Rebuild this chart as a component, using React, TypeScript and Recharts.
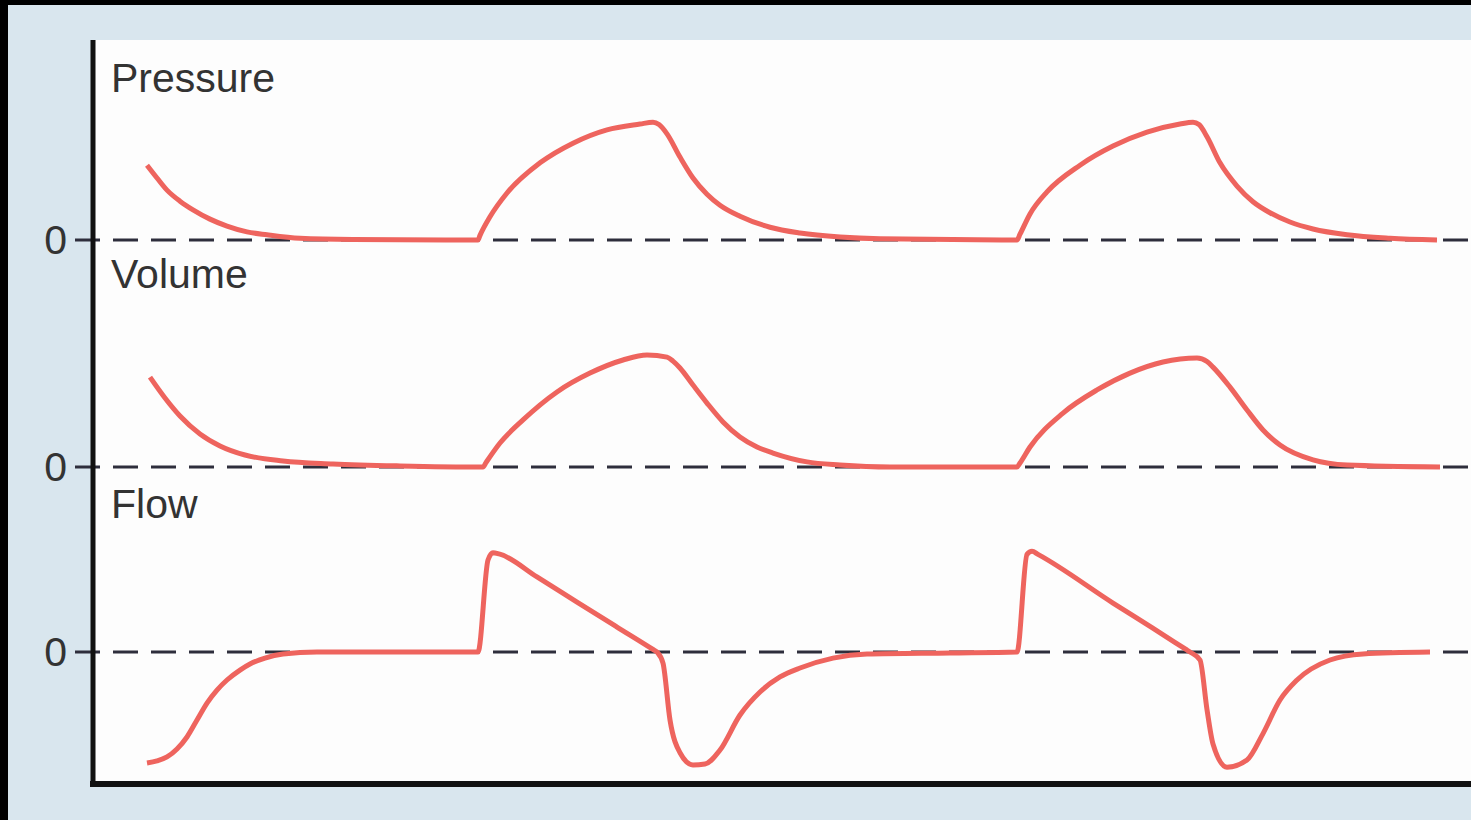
import React from 'react';
import { LineChart, Line, XAxis, YAxis, ReferenceLine, CartesianGrid } from 'recharts';

// time in seconds
const pressureTime = [0.54, 0.64, 0.74, 0.87, 1.0, 1.17, 1.34, 1.54, 1.74, 2.07, 2.6, 3.85, 3.87, 3.97, 4.14, 4.47, 4.8, 5.14, 5.47, 5.6, 5.66, 5.74, 5.87, 6.0, 6.14, 6.27, 6.47, 6.77, 7.07, 7.47, 7.87, 9.24, 9.27, 9.37, 9.54, 9.87, 10.2, 10.54, 10.87, 11.0, 11.06, 11.14, 11.27, 11.44, 11.6, 11.77, 11.97, 12.2, 12.54, 12.97, 13.44];
const pressureValue = [12.9, 10.7, 8.6, 6.7, 5.2, 3.6, 2.4, 1.4, 0.9, 0.3, 0.1, 0, 0.8, 4.0, 8.1, 13.3, 16.7, 19.0, 20.0, 20.3, 19.9, 18.3, 14.3, 10.7, 7.9, 6.0, 4.1, 2.2, 1.2, 0.5, 0.2, 0, 1.0, 4.5, 8.3, 12.9, 16.2, 18.6, 20.0, 20.3, 19.9, 17.8, 13.3, 9.3, 6.6, 4.7, 3.1, 1.9, 0.9, 0.3, 0];

const volumeTime = [0.57, 0.72, 0.87, 1.07, 1.27, 1.52, 1.9, 2.4, 3.07, 3.9, 3.93, 4.07, 4.3, 4.64, 4.97, 5.3, 5.54, 5.74, 5.8, 5.87, 6.0, 6.14, 6.3, 6.47, 6.64, 6.8, 7.14, 7.47, 7.97, 9.24, 9.27, 9.37, 9.7, 10.04, 10.37, 10.7, 11.04, 11.14, 11.2, 11.37, 11.54, 11.7, 11.87, 12.2, 12.54, 13.47];
const volumeValue = [405, 311, 230, 149, 95, 54, 27, 14, 5, 0, 20, 108, 212, 338, 423, 482, 505, 495, 477, 446, 369, 288, 203, 135, 90, 63, 23, 9, 0, 0, 18, 90, 243, 347, 423, 473, 491, 475, 450, 360, 257, 167, 99, 32, 9, 0];

const flowTime = [0.54, 0.64, 0.74, 0.84, 0.94, 1.04, 1.14, 1.24, 1.34, 1.47, 1.57, 1.72, 1.9, 2.24, 3.85, 3.95, 4.0, 4.06, 4.44, 4.84, 5.24, 5.6, 5.64, 5.7, 5.77, 5.87, 6.0, 6.12, 6.27, 6.47, 6.67, 6.87, 7.07, 7.4, 7.74, 8.57, 9.24, 9.34, 9.39, 9.45, 10.2, 10.59, 10.93, 10.97, 11.07, 11.14, 11.2, 11.34, 11.54, 11.7, 11.87, 12.04, 12.37, 12.7, 13.37];
const flowValue = [-69.4, -68.1, -65.6, -60.6, -53.1, -42.5, -31.9, -23.8, -17.5, -11.3, -7.5, -3.8, -1.3, 0, 0, 57.5, 62, 61.3, 46.9, 31.2, 15.6, 1.6, 0, -7, -42.5, -63, -70.6, -70, -61.3, -39.4, -25, -15.6, -10, -3.8, -1.3, -0.6, 0, 61, 63, 61, 30.6, 15.2, 1.6, 0, -5, -36, -57.5, -72, -67.5, -51, -30, -17.5, -5, -1.2, 0];

const panelTitles = ['Pressure', 'Volume', 'Flow'];
const zeroTick = '0';

const W = 1471;
const H = 820;
const PLOT_LEFT = 93;
const PLOT_TOP = 40;
const PLOT_BOTTOM = 784;
const T_MIN = 0;
const T_MAX = 13.78;
const DASH_START = -0.18;

const RED = '#ee645e';
const INK = '#333';
const AXIS = '#111';

const toPoints = (ts: number[], vs: number[]) => ts.map((t, i) => ({ t, v: vs[i] }));

const panels = [
  { id: 'p', title: panelTitles[0], data: toPoints(pressureTime, pressureValue), zeroY: 240, pxPerUnit: 5.8, titleDy: -148 },
  { id: 'v', title: panelTitles[1], data: toPoints(volumeTime, volumeValue), zeroY: 467, pxPerUnit: 0.222, titleDy: -179 },
  { id: 'f', title: panelTitles[2], data: toPoints(flowTime, flowValue), zeroY: 652, pxPerUnit: 1.6, titleDy: -134 },
];

const domainFor = (zeroY: number, pxPerUnit: number): [number, number] => [
  (zeroY - PLOT_BOTTOM) / pxPerUnit,
  (zeroY - PLOT_TOP) / pxPerUnit,
];

const flowDomain = domainFor(panels[2].zeroY, panels[2].pxPerUnit);

const zeroLabel = (title: string, titleDy: number) => (props: any) => {
  const { x, y } = props.viewBox;
  const font = { fontFamily: '"Liberation Sans", Arial, sans-serif', fontSize: 41, fill: INK };
  return (
    <g>
      <text x={x - 8} y={y + 14} textAnchor="end" {...font}>{zeroTick}</text>
      <text x={x + 36} y={y + titleDy} textAnchor="start" {...font}>{title}</text>
    </g>
  );
};

const App: React.FC = () => {
  return (
    <div style={{ position: 'absolute', left: 0, top: 0, width: W, height: H, background: '#d9e6ee', overflow: 'hidden' }}>
      <div style={{ position: 'absolute', left: 0, top: 0, width: W, height: 5, background: '#000' }} />
      <div style={{ position: 'absolute', left: 0, top: 0, width: 8, height: H, background: '#000' }} />
      <div style={{ position: 'absolute', left: 0, top: 0 }}>
        <LineChart width={W} height={H} margin={{ top: PLOT_TOP, right: 0, bottom: H - PLOT_BOTTOM, left: PLOT_LEFT }}>
          <CartesianGrid horizontal={false} vertical={false} fill="#fdfdfd" />
          <XAxis dataKey="t" type="number" domain={[T_MIN, T_MAX]} allowDataOverflow hide />
          {panels.map((p) => (
            <YAxis
              key={p.id}
              yAxisId={p.id}
              type="number"
              domain={domainFor(p.zeroY, p.pxPerUnit)}
              allowDataOverflow
              hide
            />
          ))}
          {panels.map((p) => (
            <ReferenceLine
              key={`ref-${p.id}`}
              yAxisId={p.id}
              segment={[{ x: DASH_START, y: 0 }, { x: T_MAX, y: 0 }]}
              ifOverflow="visible"
              stroke="#2e2e3c"
              strokeWidth={3}
              strokeDasharray="25 13"
              label={zeroLabel(p.title, p.titleDy)}
            />
          ))}
          {/* axis frame: left and bottom edges */}
          <ReferenceLine yAxisId="p" x={T_MIN} ifOverflow="visible" stroke={AXIS} strokeWidth={5} />
          <ReferenceLine
            yAxisId="f"
            y={flowDomain[0]}
            ifOverflow="visible"
            stroke={AXIS}
            strokeWidth={6}
            strokeLinecap="square"
          />
          {panels.map((p) => (
            <Line
              key={`line-${p.id}`}
              yAxisId={p.id}
              data={p.data}
              dataKey="v"
              type="monotone"
              stroke={RED}
              strokeWidth={5}
              strokeLinejoin="round"
              dot={false}
              activeDot={false}
              isAnimationActive={false}
            />
          ))}
        </LineChart>
      </div>
    </div>
  );
};

export default App;
